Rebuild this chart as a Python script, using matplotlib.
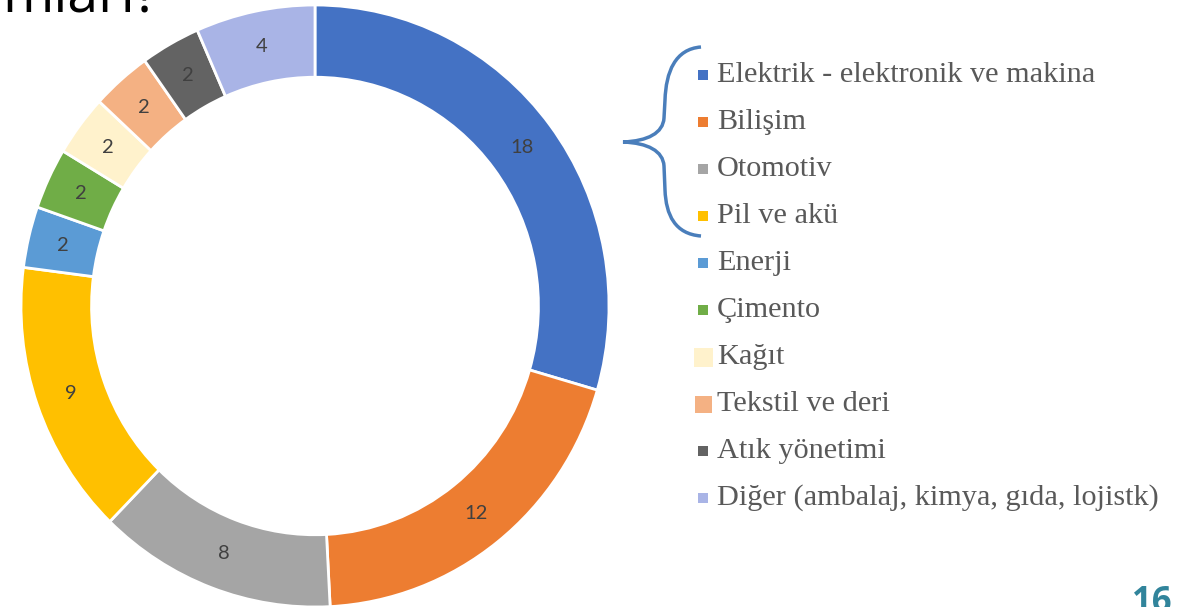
import matplotlib
matplotlib.use('Agg')
import matplotlib.pyplot as plt
from matplotlib.patches import Rectangle, PathPatch
from matplotlib.path import Path

categories = ["Elektrik - elektronik ve makina", "Bilişim", "Otomotiv", "Pil ve akü",
              "Enerji", "Çimento", "Kağıt", "Tekstil ve deri", "Atık yönetimi",
              "Diğer (ambalaj, kimya, gıda, lojistk)"]
values = [18, 12, 8, 9, 2, 2, 2, 2, 2, 4]
colors = ["#4472C4", "#ED7D31", "#A5A5A5", "#FFC000", "#5B9BD5", "#70AD47",
          "#FFF2CC", "#F4B183", "#636363", "#A9B4E6"]
marker_sizes = [10, 10, 10, 10, 10, 10, 19, 17, 10, 10]
page_number = "16"
title_fragment = "mları?"

W, H = 1188, 607
fig = plt.figure(figsize=(W / 100, H / 100), dpi=100)
fig.patch.set_facecolor("white")

ax = fig.add_axes([21 / W, 0 / H, 588 / W, 602 / H])
total = sum(values)
wedges, texts, autotexts = ax.pie(
    values, colors=colors, startangle=90, counterclock=False, radius=1.0,
    wedgeprops=dict(width=0.24, edgecolor="white", linewidth=2),
    autopct=lambda p: f"{round(p * total / 100)}", pctdistance=0.88,
    textprops=dict(family="Lato", fontsize=14.5, color="#404040"))
ax.set_aspect("auto")
ax.set_xlim(-1, 1)
ax.set_ylim(-1, 1)
ax.axis("off")


def fx(x):
    return x / W


def fy(y):
    return 1 - y / H


# legend
for i, (cat, col, ms) in enumerate(zip(categories, colors, marker_sizes)):
    yc = 75 + 47 * i
    xc = 703
    fig.patches.append(Rectangle((fx(xc - ms / 2), fy(yc + ms / 2)), ms / W, ms / H,
                                 transform=fig.transFigure, facecolor=col,
                                 edgecolor="none"))
    fig.text(fx(717), fy(yc), cat, family="Liberation Serif", fontsize=21.8,
             color="#595959", va="center", ha="left")

# curly brace
pts = [(701, 47), (675, 49), (666, 72), (665, 100),
       (664, 118),
       (663, 133), (648, 141), (623, 142),
       (648, 143), (663, 151), (664, 166),
       (665, 190),
       (666, 215), (675, 234), (701, 236)]
codes = [Path.MOVETO, Path.CURVE4, Path.CURVE4, Path.CURVE4,
         Path.LINETO,
         Path.CURVE4, Path.CURVE4, Path.CURVE4,
         Path.CURVE4, Path.CURVE4, Path.CURVE4,
         Path.LINETO,
         Path.CURVE4, Path.CURVE4, Path.CURVE4]
path = Path([(fx(x), fy(y)) for x, y in pts], codes)
fig.patches.append(PathPatch(path, transform=fig.transFigure, facecolor="none",
                             edgecolor="#4A7EBB", linewidth=2.5))

# page number and cut title (both cut at the edges as in the reference)
fig.text(fx(1152), fy(585), page_number, family="Open Sans", fontweight="bold",
         fontsize=25, color="#31849B", ha="center", va="top")
fig.text(fx(2), fy(12), title_fragment, family="Open Sans", fontsize=40,
         color="black", ha="left", va="baseline")

fig.savefig("out.png", dpi=100)
